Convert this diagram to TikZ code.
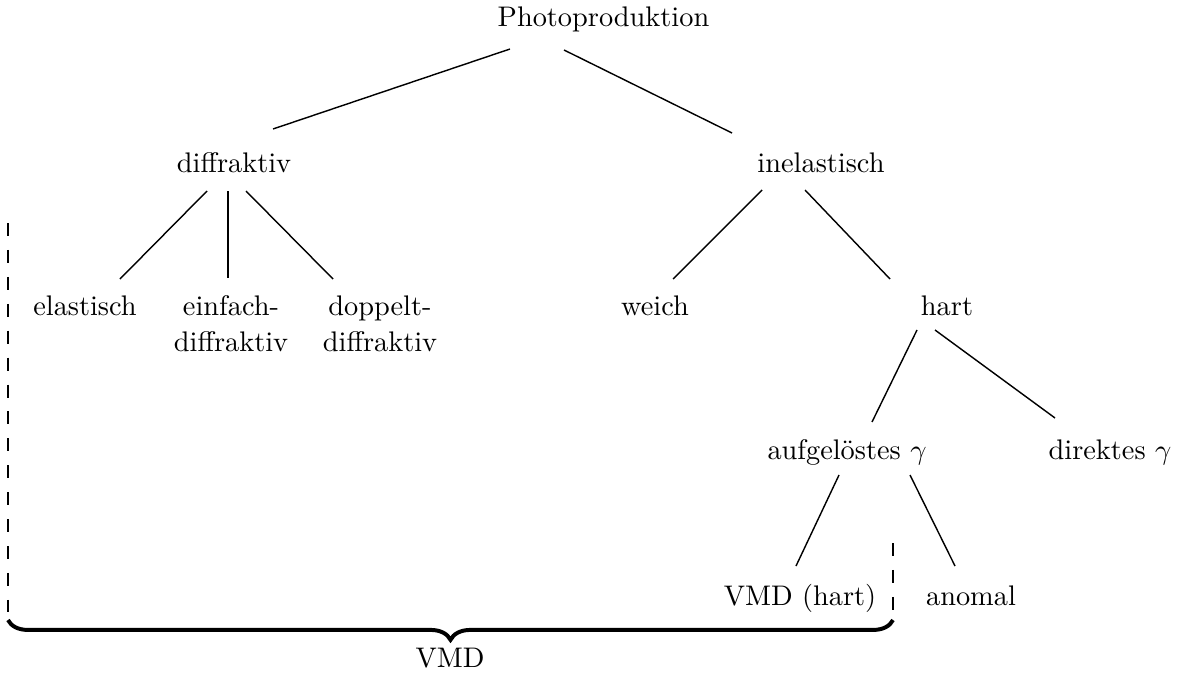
\documentclass[tikz,border=0pt]{standalone}
\usetikzlibrary{decorations.pathreplacing}
\newcommand\twoline[2]{\vtop{\baselineskip=13pt\halign{\hfil##\hfil\cr#1\cr#2\cr}}}
\begin{document}
\begin{tikzpicture}[x=0.3529pt,y=-0.3529pt,
  lbl/.style={anchor=base,inner sep=0pt,font=\fontsize{10}{12}\selectfont},
  edge/.style={line width=0.5pt},
  vdash/.style={line width=0.7pt,dash pattern=on 4.6pt off 4.9pt},
  bracestyle/.style={line width=1.4pt,decorate,decoration={brace,mirror,amplitude=7pt}}]
\useasboundingbox (0,0) rectangle (1180,675);
% nodes
\node[lbl] (pp) at (603.5,27) {Photoproduktion};
\node[lbl] (df) at (234,172) {diffraktiv};
\node[lbl] (in) at (821,172) {inelastisch};
\node[lbl] (el) at (85,315) {elastisch};
\node[lbl] (ef) at (231,315) {\twoline{einfach-}{diffraktiv}};
\node[lbl] (dp) at (380,315) {\twoline{doppelt-}{diffraktiv}};
\node[lbl] (we) at (655,315) {weich};
\node[lbl] (ha) at (947,315) {hart};
\node[lbl] (au) at (847,459) {aufgelöstes $\gamma$};
\node[lbl] (di) at (1110,459) {direktes $\gamma$};
\node[lbl] (vh) at (800,605) {VMD (hart)};
\node[lbl] (an) at (971,605) {anomal};
\node[lbl] (vmd) at (450,667) {VMD};
% connectors
\draw[edge] ([shift={(-93.5,22)}]pp.base) -- ([shift={(39,-43)}]df.base);
\draw[edge] ([shift={(-39.5,23)}]pp.base) -- ([shift={(-89,-39)}]in.base);
\draw[edge] ([shift={(-27,19)}]df.base) -- ([shift={(35,-36)}]el.base);
\draw[edge] ([shift={(-6,19)}]df.base) -- ([shift={(-3,-37)}]ef.base);
\draw[edge] ([shift={(12,19)}]df.base) -- ([shift={(-47,-36)}]dp.base);
\draw[edge] ([shift={(-59,18)}]in.base) -- ([shift={(18,-36)}]we.base);
\draw[edge] ([shift={(-16,18)}]in.base) -- ([shift={(-57,-36)}]ha.base);
\draw[edge] ([shift={(-30,15)}]ha.base) -- ([shift={(25,-37)}]au.base);
\draw[edge] ([shift={(-12,15)}]ha.base) -- ([shift={(-55,-41)}]di.base);
\draw[edge] ([shift={(-8,16)}]au.base) -- ([shift={(-4,-39)}]vh.base);
\draw[edge] ([shift={(63,16)}]au.base) -- ([shift={(-16,-39)}]an.base);
% VMD bracket
\coordinate (bl) at (8,620);
\coordinate (br) at (893,620);
\draw[vdash] (8,223) -- (8,612);
\draw[vdash] (893,543) -- (893,612);
\draw[bracestyle] (bl) -- (br);
\end{tikzpicture}
\end{document}
